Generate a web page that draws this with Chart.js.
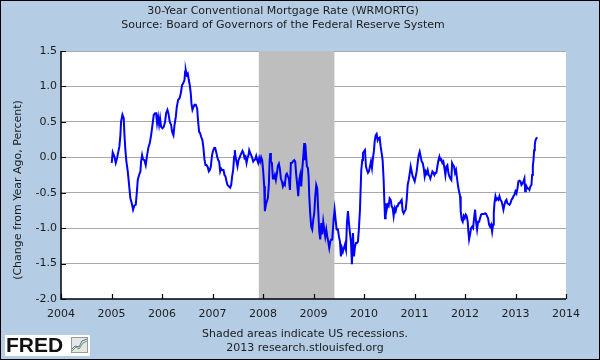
<!DOCTYPE html>
<html><head><meta charset="utf-8">
<script src="https://cdn.jsdelivr.net/npm/chart.js@4.4.1/dist/chart.umd.min.js"></script>
<style>html,body{margin:0;padding:0;background:#b4cde5;}canvas{display:block}</style>
</head><body>
<canvas id="c" width="600" height="360"></canvas>
<script>
const titleLines = ["30-Year Conventional Mortgage Rate (WRMORTG)", "Source: Board of Governors of the Federal Reserve System"];
const yAxisTitle = "(Change from Year Ago, Percent)";
const footerLines = ["Shaded areas indicate US recessions.", "2013 research.stlouisfed.org"];
const logoText = "FRED";
const xTickYears = [2004,2005,2006,2007,2008,2009,2010,2011,2012,2013,2014];
const yTickValues = [1.5,1.0,0.5,0.0,-0.5,-1.0,-1.5,-2.0];
const recessionStart = [2007.917];
const recessionEnd = [2009.414];

const weekDates = [
2005.004,2005.024,2005.057,2005.084,2005.110,2005.136,2005.156,2005.176,2005.189,2005.216,2005.242,2005.255,2005.275,2005.295,2005.322,2005.348,2005.374,2005.401,2005.427,2005.454,2005.480,2005.500,2005.520,2005.546,2005.573,2005.586,2005.606,2005.625,2005.652,2005.678,2005.705,2005.731,2005.758,2005.784,2005.810,2005.837,2005.863,2005.883,2005.903,2005.923,2005.943,2005.962,2005.982,
2006.009,2006.035,2006.061,2006.081,2006.108,2006.128,2006.154,2006.180,2006.200,2006.227,2006.247,2006.273,2006.293,2006.319,2006.346,2006.372,2006.398,2006.418,2006.445,2006.458,2006.471,2006.491,2006.511,2006.531,2006.550,2006.570,2006.583,2006.603,2006.623,2006.643,2006.669,2006.696,2006.716,2006.735,2006.755,2006.775,2006.801,2006.821,2006.841,2006.861,2006.881,2006.907,2006.927,2006.947,2006.967,2006.987,
2007.006,2007.033,2007.053,2007.072,2007.092,2007.112,2007.132,2007.152,2007.172,2007.191,2007.218,2007.238,2007.257,2007.277,2007.297,2007.323,2007.350,2007.370,2007.389,2007.409,2007.429,2007.442,2007.456,2007.475,2007.495,2007.515,2007.535,2007.555,2007.575,2007.594,2007.614,2007.634,2007.654,2007.674,2007.693,2007.713,2007.727,2007.746,2007.766,2007.786,2007.806,2007.826,2007.845,2007.865,2007.885,2007.905,2007.925,2007.945,2007.964,2007.984,
2008.004,2008.024,2008.037,2008.057,2008.077,2008.096,2008.116,2008.129,2008.143,2008.156,2008.176,2008.196,2008.215,2008.235,2008.255,2008.275,2008.295,2008.315,2008.334,2008.354,2008.374,2008.394,2008.414,2008.433,2008.453,2008.473,2008.493,2008.513,2008.533,2008.552,2008.572,2008.592,2008.618,2008.638,2008.658,2008.678,2008.698,2008.718,2008.737,2008.757,2008.777,2008.797,2008.817,2008.830,2008.850,2008.869,2008.889,2008.903,2008.916,2008.936,2008.955,2008.975,2008.995,
2009.015,2009.035,2009.054,2009.074,2009.094,2009.114,2009.134,2009.154,2009.173,2009.193,2009.213,2009.233,2009.253,2009.273,2009.292,2009.312,2009.332,2009.352,2009.372,2009.398,2009.418,2009.438,2009.458,2009.484,2009.504,2009.524,2009.543,2009.563,2009.583,2009.603,2009.623,2009.643,2009.662,2009.682,2009.702,2009.722,2009.742,2009.761,2009.781,2009.801,2009.821,2009.841,2009.861,2009.880,2009.900,2009.920,2009.933,2009.946,2009.966,2009.979,2009.999,
2010.019,2010.039,2010.059,2010.079,2010.098,2010.118,2010.138,2010.158,2010.178,2010.198,2010.211,2010.231,2010.250,2010.270,2010.290,2010.310,2010.330,2010.350,2010.369,2010.389,2010.402,2010.416,2010.429,2010.449,2010.468,2010.488,2010.508,2010.528,2010.548,2010.568,2010.587,2010.607,2010.627,2010.647,2010.667,2010.686,2010.706,2010.726,2010.746,2010.766,2010.786,2010.805,2010.825,2010.845,2010.865,2010.885,2010.905,2010.924,2010.944,2010.964,2010.984,
2011.004,2011.024,2011.043,2011.063,2011.083,2011.103,2011.123,2011.142,2011.162,2011.182,2011.202,2011.222,2011.241,2011.261,2011.281,2011.301,2011.314,2011.334,2011.354,2011.374,2011.394,2011.413,2011.433,2011.453,2011.473,2011.493,2011.512,2011.532,2011.552,2011.572,2011.592,2011.612,2011.631,2011.651,2011.671,2011.691,2011.711,2011.730,2011.744,2011.763,2011.783,2011.803,2011.823,2011.843,2011.863,2011.882,2011.902,2011.915,2011.935,2011.955,2011.975,2011.995,
2012.015,2012.034,2012.054,2012.067,2012.081,2012.100,2012.120,2012.140,2012.160,2012.180,2012.200,2012.219,2012.239,2012.259,2012.279,2012.299,2012.318,2012.338,2012.358,2012.378,2012.398,2012.418,2012.437,2012.457,2012.477,2012.497,2012.517,2012.537,2012.556,2012.570,2012.583,2012.603,2012.622,2012.642,2012.662,2012.682,2012.702,2012.722,2012.741,2012.761,2012.781,2012.801,2012.821,2012.840,2012.860,2012.880,2012.900,2012.920,2012.940,2012.959,2012.979,2012.999,
2013.019,2013.039,2013.058,2013.078,2013.098,2013.118,2013.138,2013.158,2013.177,2013.191,2013.204,2013.217,2013.237,2013.257,2013.276,2013.296,2013.316,2013.329,2013.343,2013.356,2013.369,2013.382,2013.395,2013.415,2013.435
];
const changeValues = [
-0.08,0.07,0.01,-0.08,-0.01,0.08,0.15,0.31,0.50,0.60,0.55,0.34,0.10,-0.06,-0.20,-0.39,-0.58,-0.65,-0.74,-0.68,-0.67,-0.51,-0.32,-0.25,-0.20,-0.06,0.03,-0.03,-0.04,-0.11,0.03,0.14,0.20,0.31,0.45,0.60,0.62,0.62,0.48,0.57,0.46,0.55,0.43,
0.41,0.43,0.50,0.62,0.67,0.62,0.50,0.46,0.36,0.31,0.45,0.57,0.71,0.81,0.83,0.90,1.02,1.04,1.09,1.21,1.23,1.16,1.18,1.09,1.02,0.90,0.76,0.67,0.71,0.74,0.74,0.69,0.50,0.36,0.34,0.29,0.24,0.13,-0.03,-0.11,-0.11,-0.14,-0.20,-0.18,-0.13,0.01,
0.08,0.13,0.13,0.08,0.01,-0.04,-0.06,-0.20,-0.16,-0.18,-0.18,-0.25,-0.27,-0.34,-0.39,-0.41,-0.43,-0.39,-0.27,-0.18,0.01,0.10,0.01,-0.06,-0.13,-0.04,-0.01,0.03,0.06,0.09,0.06,-0.01,0.01,-0.08,-0.01,0.03,0.10,0.06,0.03,-0.01,-0.06,-0.04,-0.03,0.02,-0.04,-0.08,-0.01,-0.06,0.00,-0.04,
-0.20,-0.41,-0.76,-0.67,-0.62,-0.58,-0.39,-0.08,0.06,-0.06,-0.08,-0.30,-0.30,-0.25,-0.32,-0.23,-0.12,-0.09,-0.16,-0.30,-0.34,-0.41,-0.37,-0.39,-0.25,-0.23,-0.27,-0.30,-0.46,-0.08,-0.08,-0.06,-0.04,-0.06,-0.25,-0.39,-0.55,-0.32,-0.25,-0.41,-0.18,0.01,0.20,-0.04,0.06,-0.13,-0.15,-0.27,-0.55,-0.81,-0.98,-1.02,-0.88,
-0.79,-0.55,-0.39,-0.44,-0.76,-1.05,-1.16,-0.93,-1.09,-0.91,-1.02,-1.12,-1.02,-1.12,-1.19,-1.28,-1.19,-1.16,-1.16,-0.88,-0.74,-0.88,-1.02,-1.02,-1.12,-1.19,-1.40,-1.28,-1.33,-1.28,-1.23,-1.30,-0.93,-0.76,-0.93,-1.07,-1.19,-1.51,-1.07,-1.40,-1.26,-1.21,-1.21,-1.19,-1.00,-0.74,-0.46,-0.18,-0.04,0.06,0.08,
0.10,-0.13,-0.18,-0.22,-0.20,-0.13,-0.06,-0.15,-0.01,0.10,0.22,0.31,0.33,0.24,0.27,0.28,0.15,0.06,-0.04,-0.32,-0.60,-0.86,-0.65,-0.74,-0.67,-0.69,-0.58,-0.60,-0.69,-0.72,-0.83,-0.72,-0.76,-0.69,-0.69,-0.65,-0.65,-0.62,-0.60,-0.76,-0.79,-0.76,-0.74,-0.60,-0.39,-0.32,-0.23,-0.13,-0.20,-0.27,-0.30,
-0.34,-0.27,-0.20,-0.08,0.03,0.08,0.01,-0.06,-0.08,-0.15,-0.27,-0.20,-0.23,-0.18,-0.25,-0.27,-0.30,-0.25,-0.20,-0.22,-0.25,-0.22,-0.22,-0.13,-0.04,0.01,-0.04,-0.03,-0.08,-0.06,-0.15,-0.25,-0.13,-0.11,-0.22,-0.27,-0.30,-0.32,-0.08,-0.11,-0.13,-0.22,-0.18,-0.30,-0.41,-0.48,-0.55,-0.76,-0.88,-0.91,-0.83,-0.86,
-0.81,-0.83,-0.91,-1.05,-1.16,-1.09,-1.00,-0.98,-1.00,-0.86,-0.74,-0.91,-1.02,-0.91,-0.91,-0.86,-0.81,-0.80,-0.80,-0.80,-0.79,-0.80,-0.83,-0.86,-0.95,-0.98,-0.95,-1.05,-0.95,-0.79,-0.65,-0.55,-0.60,-0.58,-0.60,-0.55,-0.60,-0.62,-0.67,-0.74,-0.67,-0.62,-0.60,-0.65,-0.66,-0.67,-0.65,-0.60,-0.58,-0.55,-0.53,-0.48,
-0.51,-0.44,-0.34,-0.33,-0.34,-0.39,-0.37,-0.34,-0.30,-0.48,-0.46,-0.41,-0.44,-0.44,-0.46,-0.41,-0.39,-0.25,-0.13,-0.04,0.10,0.17,0.24,0.27,0.28
];

const BG = '#b4cde5';
const FONT = "'DejaVu Sans', Verdana, sans-serif";
const TEXT = '#1c1c1c';

const fredPlugin = {
  id: 'fred',
  beforeDraw(chart) {
    const {ctx, chartArea: a} = chart;
    ctx.save();
    ctx.fillStyle = BG;
    ctx.fillRect(0, 0, chart.width, chart.height);
    ctx.fillStyle = '#ffffff';
    ctx.fillRect(a.left, a.top, a.right - a.left, a.bottom - a.top);
    ctx.restore();
  },
  beforeDatasetsDraw(chart) {
    const {ctx, chartArea: a, scales} = chart;
    ctx.save();
    ctx.fillStyle = '#bebebe';
    for (let i = 0; i < recessionStart.length; i++) {
      const x0 = scales.x.getPixelForValue(recessionStart[i]);
      const x1 = scales.x.getPixelForValue(recessionEnd[i]);
      ctx.fillRect(x0, a.top, x1 - x0, a.bottom - a.top);
    }
    ctx.restore();
  },
  afterDraw(chart) {
    const {ctx, chartArea: a, scales} = chart;
    ctx.save();
    // axes
    ctx.strokeStyle = '#000';
    ctx.lineWidth = 1.5;
    ctx.beginPath();
    ctx.moveTo(a.left, a.top);
    ctx.lineTo(a.left, a.bottom);
    ctx.lineTo(a.right, a.bottom);
    ctx.stroke();
    // inward tick marks
    ctx.lineWidth = 1.2;
    ctx.beginPath();
    yTickValues.forEach(v => {
      const y = Math.round(scales.y.getPixelForValue(v)) + 0.5;
      ctx.moveTo(a.left, y); ctx.lineTo(a.left + 5, y);
    });
    xTickYears.forEach(v => {
      const x = Math.round(scales.x.getPixelForValue(v)) + 0.5;
      ctx.moveTo(x, a.bottom); ctx.lineTo(x, a.bottom - 5);
    });
    ctx.stroke();
    // y axis title
    ctx.fillStyle = TEXT;
    ctx.font = '11px ' + FONT;
    ctx.textAlign = 'center';
    ctx.textBaseline = 'middle';
    ctx.save();
    ctx.translate(18, 190);
    ctx.rotate(-Math.PI / 2);
    ctx.fillText(yAxisTitle, 0, 0);
    ctx.restore();
    // footer
    ctx.fillText(footerLines[0], 305, 334);
    ctx.fillText(footerLines[1], 305, 348);
    // FRED logo
    ctx.fillStyle = '#ffffff';
    ctx.fillRect(5, 335, 85, 21);
    ctx.fillStyle = '#111';
    ctx.textAlign = 'left';
    ctx.font = "bold 21px 'Liberation Sans', Arial, sans-serif";
    ctx.fillText(logoText, 6, 346.5);
    ctx.fillStyle = '#e6e6e6';
    ctx.fillRect(71, 337, 17, 16);
    ctx.strokeStyle = '#9a9a9a'; ctx.lineWidth = 1;
    ctx.strokeRect(71.5, 337.5, 16, 15);
    ctx.strokeStyle = '#6a9f3a';
    ctx.beginPath(); ctx.moveTo(72, 351); ctx.lineTo(76, 347); ctx.lineTo(79, 349); ctx.lineTo(83, 343); ctx.lineTo(87, 341); ctx.stroke();
    ctx.strokeStyle = '#4a6fc0';
    ctx.beginPath(); ctx.moveTo(72, 349); ctx.lineTo(75, 346); ctx.lineTo(79, 347); ctx.lineTo(82, 341); ctx.lineTo(87, 339); ctx.stroke();
    // outer border
    ctx.strokeStyle = '#000'; ctx.lineWidth = 2;
    ctx.strokeRect(0, 0, chart.width, chart.height);
    ctx.restore();
  }
};

Chart.defaults.font.family = FONT;
Chart.defaults.font.size = 11;
Chart.defaults.color = TEXT;

new Chart(document.getElementById('c'), {
  type: 'line',
  data: {
    datasets: [{
      label: 'WRMORTG',
      data: weekDates.map((d, i) => ({x: d, y: changeValues[i]})),
      borderColor: '#0000ff',
      borderWidth: 2,
      pointRadius: 0,
      tension: 0,
      fill: false
    }]
  },
  options: {
    responsive: false,
    animation: false,
    devicePixelRatio: 1,
    layout: {padding: {top: 0, left: 0, right: 34, bottom: 0}},
    plugins: {
      legend: {display: false},
      tooltip: {enabled: false},
      title: {
        display: true,
        text: titleLines,
        color: TEXT,
        font: {size: 11, weight: 'normal', family: FONT, lineHeight: 14 / 11},
        padding: {top: 4, bottom: 19}
      }
    },
    scales: {
      x: {
        type: 'linear',
        min: 2004, max: 2014,
        afterFit(s) { s.height = 61; },
        afterBuildTicks(s) { s.ticks = xTickYears.map(v => ({value: v})); },
        ticks: {autoSkip: false, maxRotation: 0, padding: 9, callback: v => String(v), color: TEXT},
        grid: {display: false, drawTicks: false},
        border: {display: false}
      },
      y: {
        min: -2, max: 1.5,
        afterFit(s) { s.width = 61; },
        afterBuildTicks(s) { s.ticks = yTickValues.map(v => ({value: v})); },
        ticks: {padding: 4, callback: v => Number(v).toFixed(1), color: TEXT},
        grid: {drawTicks: false, color: c => (c.tick && c.tick.value === -2) ? 'rgba(0,0,0,0)' : '#a9a9a9', lineWidth: 1},
        border: {display: false}
      }
    }
  },
  plugins: [fredPlugin]
});
</script>
</body></html>
